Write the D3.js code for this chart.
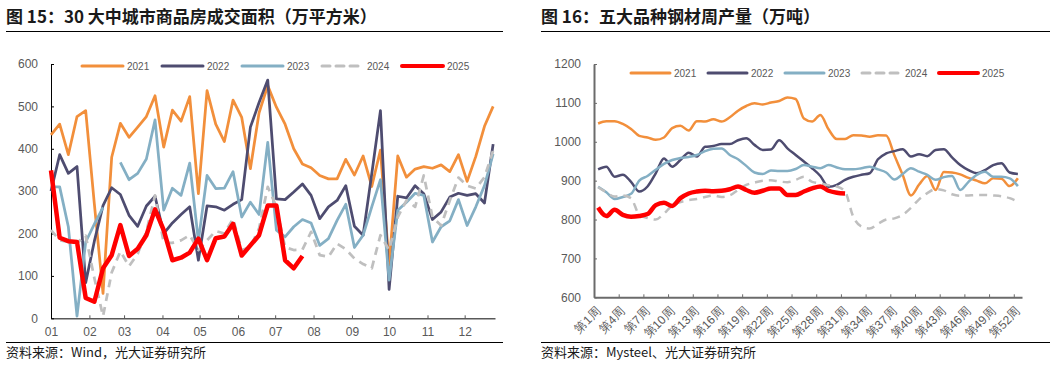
<!DOCTYPE html>
<html>
<head>
<meta charset="utf-8">
<script src="https://cdn.jsdelivr.net/npm/d3@7/dist/d3.min.js"></script>
<style>
body { margin: 0; background: #fff; }
svg text { font-family: "Liberation Sans", Arial, sans-serif; fill: #595959; }
.cn { font-family: "Noto Sans CJK SC", sans-serif; }
</style>
</head>
<body>
<svg id="svg" width="1055" height="365"></svg>
<script>
// chart 15: 30 cities floor area, weekly points (day of year = 7*i)
var years = ["2021", "2022", "2023", "2024", "2025"];
var monthLabels = ["01","02","03","04","05","06","07","08","09","10","11","12"];
var monthDays = [0, 31, 59, 90, 120, 151, 181, 212, 243, 273, 304, 334];
var areaTicks = [0, 100, 200, 300, 400, 500, 600];

var area2021 = [433,458,386,476,490,270,59,380,460,427,451,476,525,404,491,465,523,294,
  537,458,417,515,474,353,485,549,498,458,400,364,355,337,329,329,375,
  338,383,311,397,126,383,333,352,358,354,362,346,386,323,382,453,500];
var area2022 = [300,386,342,358,84,182,266,308,292,243,217,265,288,200,225,245,263,137,
  265,263,255,269,280,451,509,562,282,280,298,317,290,235,263,278,313,
  217,196,341,490,68,288,284,313,294,233,251,286,295,290,294,272,411];
var area2023 = [310,310,216,5,180,222,262,null,368,327,342,376,468,255,307,290,366,182,
  337,306,307,346,239,274,245,415,208,192,216,233,225,172,188,231,269,
  167,196,263,327,90,255,274,295,290,180,216,230,280,219,263,313,388];
var area2024 = [208,184,180,178,195,95,5,108,158,123,152,205,290,178,178,184,196,161,
  184,206,200,235,161,168,212,310,263,168,161,162,204,149,145,176,163,
  141,128,118,196,161,239,278,263,337,239,219,278,332,313,306,333,396];
var area2025 = [349,190,182,180,48,39,118,149,220,147,164,196,257,208,137,143,155,188,
  137,189,193,223,148,172,196,266,266,137,118,147];

// chart 16: steel output by week
var weekLabels = ["第1周","第4周","第7周","第10周","第13周","第16周","第19周","第22周","第25周",
  "第28周","第31周","第34周","第37周","第40周","第43周","第46周","第49周","第52周"];
var weekLabelPos = [1,4,7,10,13,16,19,22,25,28,31,34,37,40,43,46,49,52];
var steelTicks = [600, 700, 800, 900, 1000, 1100, 1200];

var steel2021 = [1047,1053,1053,1046,1033,1015,1011,1005,1011,1035,1041,1029,1053,1052,1058,1052,1063,1080,1092,1099,
  1096,1101,1105,1114,1110,1060,1052,1069,1032,1007,1007,1017,1016,1013,1017,1016,965,915,862,890,
  912,876,922,921,916,907,900,893,906,905,886,906];
var steel2022 = [929,936,910,915,897,872,885,919,957,936,953,972,962,987,989,994,994,1004,1009,992,
  979,980,1004,983,966,949,932,912,884,889,902,910,915,919,955,970,976,981,962,968,
  963,979,981,960,940,927,919,927,940,945,921,917];
var steel2023 = [884,870,853,858,866,900,912,928,943,953,958,961,966,976,982,983,966,955,938,921,
  917,926,925,925,930,940,936,932,940,934,929,929,932,936,929,921,903,917,932,923,
  915,902,909,912,876,897,915,923,910,910,906,886];
var steel2024 = [883,870,859,862,855,812,804,800,815,836,845,850,853,858,862,858,862,876,889,895,
  900,901,898,896,902,910,897,893,888,885,872,807,782,777,789,800,803,812,830,852,
  868,878,875,865,861,862,863,863,862,860,855,846];
var steel2025 = [831,809,825,812,807,809,814,837,843,835,855,867,872,874,873,874,878,885,876,869,
  874,880,880,863,863,872,880,885,874,869,867];

var colors = ["#f28f3b", "#4e4c70", "#84afc4", "#bfbfbf", "#ff0000"];

var svg = d3.select("#svg");

//titles, rules and sources
var frame = function(x0, x1, title, source){
    svg.append("text").attr("class", "cn")
	.attr("x", x0).attr("y", 23)
	.style("font-size", "17px").style("font-weight", "bold").style("fill", "#1a1a1a")
	.text(title);
    svg.append("line").attr("x1", x0).attr("x2", x1).attr("y1", 31.5).attr("y2", 31.5)
	.attr("stroke", "#000").attr("stroke-width", 1);
    svg.append("line").attr("x1", x0).attr("x2", x1).attr("y1", 342.5).attr("y2", 342.5)
	.attr("stroke", "#000").attr("stroke-width", 1);
    svg.append("text").attr("class", "cn")
	.attr("x", x0).attr("y", 357)
	.style("font-size", "13px").style("fill", "#1a1a1a")
	.text(source);
};

//legend row, one item per year
var legend = function(x0, step, len, y){
    var items = svg.append("g").selectAll("g").data(years).enter().append("g")
	.attr("transform", function(d, i){ return "translate(" + (x0 + i * step) + "," + y + ")"; });
    items.append("line")
	.attr("x1", 0).attr("x2", len).attr("y1", 0).attr("y2", 0)
	.attr("stroke", function(d, i){ return colors[i]; })
	.attr("stroke-width", function(d, i){ return i == 4 ? 4 : 3; })
	.attr("stroke-linecap", "round")
	.attr("stroke-dasharray", function(d, i){ return i == 3 ? "8,6" : null; });
    items.append("text")
	.attr("x", len + 4).attr("y", 3.5)
	.style("font-size", "10px")
	.text(function(d){ return d; });
};

var styleAxis = function(g, color, width){
    g.select(".domain").attr("stroke", color).attr("stroke-width", width);
    g.selectAll(".tick line").attr("stroke", color);
    g.selectAll(".tick text").style("font-size", "12px").attr("fill", "#595959");
};

//left chart
var chartArea = function(){
    var x = d3.scaleLinear().domain([0, 358.5]).range([51, 495]);
    var y = d3.scaleLinear().domain([0, 600]).range([318.3, 64]);
    var series = [area2021, area2022, area2023, area2024, area2025];

    var gx = svg.append("g").attr("transform", "translate(0," + y(0) + ")")
	.call(d3.axisBottom(x).tickValues(monthDays)
	      .tickFormat(function(d, i){ return monthLabels[i]; })
	      .tickSize(-3).tickSizeOuter(0).tickPadding(9));
    styleAxis(gx, "#595959", 1.5);

    var gy = svg.append("g").attr("transform", "translate(" + x(0) + ",0)")
	.call(d3.axisLeft(y).tickValues(areaTicks).tickSize(-3).tickSizeOuter(0).tickPadding(13));
    styleAxis(gy, "#000", 1);

    var line = d3.line()
	.defined(function(d){ return d != null; })
	.x(function(d, i){ return x(i * 7); })
	.y(function(d){ return y(d); });

    svg.append("g").selectAll("path").data(series).enter().append("path")
	.attr("d", line)
	.attr("fill", "none")
	.attr("stroke", function(d, i){ return colors[i]; })
	.attr("stroke-width", function(d, i){ return i == 4 ? 4.5 : 2.75; })
	.attr("stroke-linejoin", "round")
	.attr("stroke-dasharray", function(d, i){ return i == 3 ? "8,6" : null; });

    legend(82, 80, 41, 66);
};

//right chart
var chartSteel = function(){
    var x = d3.scaleLinear().domain([0.5, 52.5]).range([594, 1022]);
    var y = d3.scaleLinear().domain([600, 1200]).range([297.3, 64]);
    var series = [steel2021, steel2022, steel2023, steel2024, steel2025];

    var gx = svg.append("g").attr("transform", "translate(0," + y(600) + ")")
	.call(d3.axisBottom(x).tickValues(weekLabelPos.map(function(w){ return w - 0.5; }))
	      .tickFormat("").tickSize(-3).tickSizeOuter(0));
    styleAxis(gx, "#6b6b6b", 2);

    svg.append("g").selectAll("text").data(weekLabels).enter().append("text")
	.attr("transform", function(d, i){
	    return "translate(" + (x(weekLabelPos[i]) + 3) + "," + 312 + ") rotate(-45)";
	})
	.attr("text-anchor", "end")
	.style("font-size", "12px")
	.text(function(d){ return d; });

    var gy = svg.append("g").attr("transform", "translate(" + x(0.5) + ",0)")
	.call(d3.axisLeft(y).tickValues(steelTicks).tickFormat(d3.format("d"))
	      .tickSize(-3).tickSizeOuter(0).tickPadding(13));
    styleAxis(gy, "#6b6b6b", 2);

    var line = d3.line()
	.curve(d3.curveMonotoneX)
	.x(function(d, i){ return x(i + 1); })
	.y(function(d){ return y(d); });

    svg.append("g").selectAll("path").data(series).enter().append("path")
	.attr("d", line)
	.attr("fill", "none")
	.attr("stroke", function(d, i){ return colors[i]; })
	.attr("stroke-width", function(d, i){ return i == 4 ? 4.5 : 2.5; })
	.attr("stroke-linejoin", "round")
	.attr("stroke-dasharray", function(d, i){ return i == 3 ? "8,6" : null; });

    legend(631, 77, 39, 73);
};

frame(6, 503, "图 15：30 大中城市商品房成交面积（万平方米）", "资料来源：Wind，光大证券研究所");
frame(541, 1050, "图 16：五大品种钢材周产量（万吨）", "资料来源：Mysteel、光大证券研究所");
chartArea();
chartSteel();
</script>
</body>
</html>
